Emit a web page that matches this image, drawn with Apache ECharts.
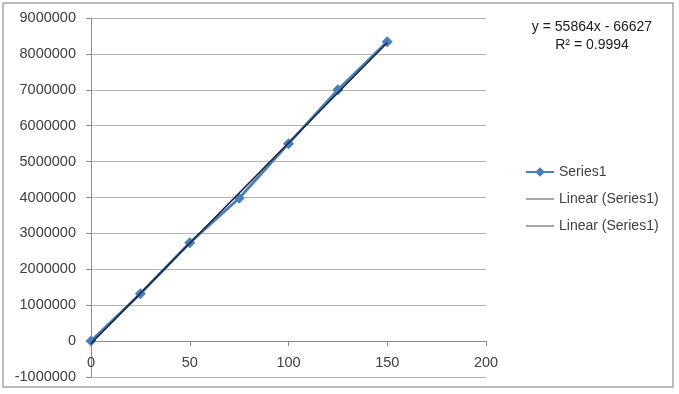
<!DOCTYPE html>
<html>
<head>
<meta charset="utf-8">
<script src="https://cdn.jsdelivr.net/npm/echarts@6/dist/echarts.min.js"></script>
<style>
html,body{margin:0;padding:0;background:#fff;}
#chart{width:679px;height:394px;}
</style>
</head>
<body>
<div id="chart"></div>
<script>
// Data
var xValues = [0, 25, 50, 75, 100, 125, 150];
var series1Values = [0, 1320000, 2740000, 3980000, 5500000, 7000000, 8340000];
var xTicks = [0, 50, 100, 150, 200];
var yTicks = [-1000000, 0, 1000000, 2000000, 3000000, 4000000, 5000000, 6000000, 7000000, 8000000, 9000000];
// Trendline coefficients as printed on the chart
var trendSlope = 55864;
var trendIntercept = -66627;
var trendRange = [0, 150];
var equationText = 'y = 55864x - 66627';
var r2Text = 'R² = 0.9994';

var seriesData = xValues.map(function (x, i) { return [x, series1Values[i]]; });
var trendData = trendRange.map(function (x) { return [x, trendSlope * x + trendIntercept]; });

var font = '"Liberation Sans", Arial, sans-serif';
var chart = echarts.init(document.getElementById('chart'));
chart.setOption({
  animation: false,
  backgroundColor: '#ffffff',
  textStyle: { fontFamily: font },
  grid: { left: 91, right: 193, top: 18, bottom: 17, containLabel: false, outerBoundsMode: 'none' },
  xAxis: {
    type: 'value',
    min: xTicks[0], max: xTicks[xTicks.length - 1], interval: 50,
    axisLine: { onZero: true, lineStyle: { color: '#8c8c8c', width: 1 } },
    axisTick: { show: true, inside: false, length: 5, lineStyle: { color: '#8c8c8c' } },
    axisLabel: { color: '#404040', fontSize: 14.5, margin: -22, fontFamily: font },
    splitLine: { show: false }
  },
  yAxis: {
    type: 'value',
    min: yTicks[0], max: yTicks[yTicks.length - 1], interval: 1000000,
    axisLine: { show: true, onZero: false, lineStyle: { color: '#8c8c8c', width: 1 } },
    axisTick: { show: true, length: 5, lineStyle: { color: '#8c8c8c' } },
    axisLabel: { color: '#404040', fontSize: 14.5, margin: 15, fontFamily: font,
      formatter: function (v) { return String(v); } },
    splitLine: { show: true, lineStyle: { color: '#b4b4b4', width: 1 } }
  },
  legend: {
    orient: 'vertical',
    left: 520, top: 160,
    itemGap: 13,
    itemWidth: 28, itemHeight: 12,
    textStyle: { color: '#404040', fontSize: 14, fontFamily: font },
    data: [
      { name: 'Series1' },
      { name: 'Linear (Series1)', itemStyle: { opacity: 0 }, lineStyle: { color: '#505050', width: 1 } },
      { name: 'Linear (Series1) ', itemStyle: { opacity: 0 }, lineStyle: { color: '#505050', width: 1 } }
    ]
  },
  graphic: [
    { type: 'rect', shape: { x: 3, y: 3, width: 670, height: 384 }, style: { fill: null, stroke: '#a6a6a6', lineWidth: 1.5 }, silent: true },
    { type: 'text', x: 592, y: 20, style: { text: equationText, fill: '#202020', font: '14px ' + font, textAlign: 'center' } },
    { type: 'text', x: 592, y: 38, style: { text: r2Text, fill: '#202020', font: '14px ' + font, textAlign: 'center' } }
  ],
  series: [
    {
      name: 'Series1', type: 'line', data: seriesData, z: 2,
      symbol: 'diamond', symbolSize: 11,
      lineStyle: { color: '#4a7ebb', width: 2.8 },
      itemStyle: { color: '#4a7ebb' }
    },
    {
      name: 'Linear (Series1)', type: 'line', data: trendData, z: 3,
      symbol: 'none',
      lineStyle: { color: '#1f2b45', width: 1.3 },
      itemStyle: { color: '#1f2b45' }
    },
    {
      name: 'Linear (Series1) ', type: 'line', data: trendData, z: 3,
      symbol: 'none',
      lineStyle: { color: '#1f2b45', width: 1.3 },
      itemStyle: { color: '#1f2b45' }
    }
  ]
});
</script>
</body>
</html>
